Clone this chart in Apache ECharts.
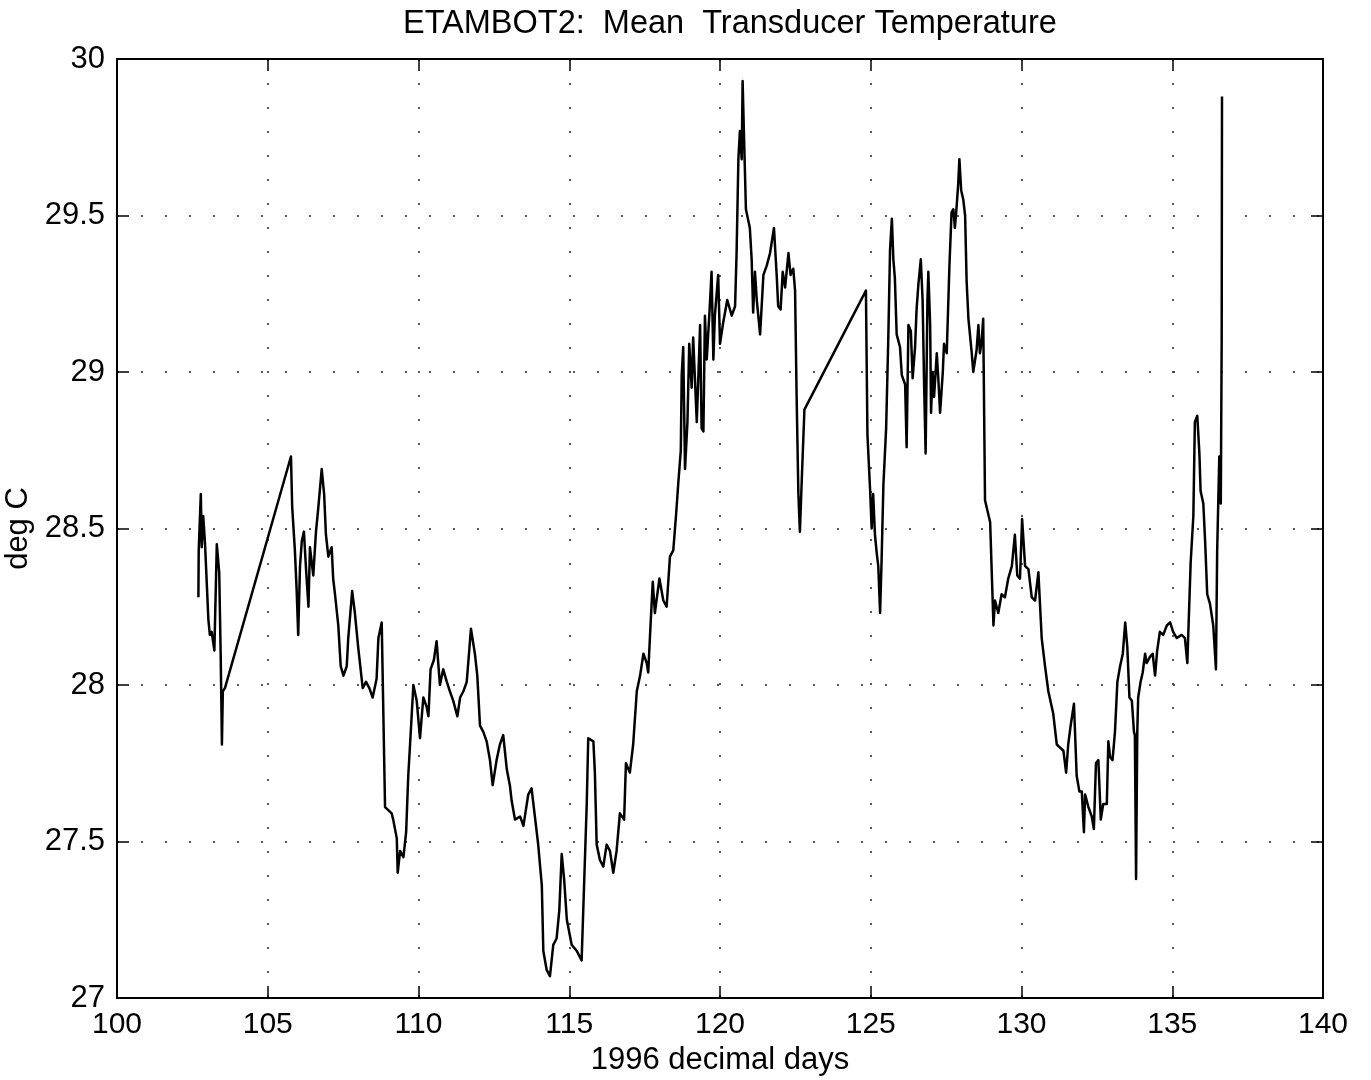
<!DOCTYPE html>
<html>
<head>
<meta charset="utf-8">
<title>ETAMBOT2: Mean Transducer Temperature</title>
<script src="https://cdn.jsdelivr.net/npm/echarts@6/dist/echarts.min.js"></script>
<style>
  html, body { margin: 0; padding: 0; background: #ffffff; }
  #chart { width: 1371px; height: 1080px; }
</style>
</head>
<body>
<div id="chart"></div>
<script>
// Time axis: 1996 decimal days
const days = [
  102.70, 102.71, 102.78, 102.81, 102.86, 102.92, 102.98, 103.03, 103.08, 103.14,
  103.23, 103.31, 103.39, 103.44, 103.48, 103.51, 103.58,
  105.77, 105.81, 105.90, 105.96, 106.01, 106.07, 106.13, 106.20, 106.27, 106.35,
  106.40, 106.51, 106.60, 106.68, 106.79, 106.87, 106.93, 107.01, 107.12, 107.17,
  107.23, 107.34, 107.42, 107.51, 107.62, 107.67, 107.80, 107.89, 108.00, 108.15,
  108.26, 108.37, 108.48, 108.61, 108.67, 108.78, 108.89, 109.00, 109.11, 109.16,
  109.28, 109.31, 109.39, 109.50, 109.59, 109.66, 109.72, 109.83, 109.94, 110.05,
  110.16, 110.27, 110.33, 110.40, 110.51, 110.60, 110.71, 110.82, 110.94, 111.04,
  111.15, 111.29, 111.38, 111.49, 111.60, 111.74, 111.87, 111.95, 112.04, 112.15,
  112.26, 112.37, 112.46, 112.59, 112.70, 112.81, 112.93, 113.03, 113.09, 113.20,
  113.37, 113.48, 113.64, 113.75, 113.86, 113.97, 114.09, 114.14, 114.25, 114.36,
  114.47, 114.58, 114.67, 114.75, 114.83, 114.92, 115.08, 115.25, 115.41, 115.47,
  115.58, 115.63, 115.80, 115.85, 115.91, 116.02, 116.13, 116.24, 116.35, 116.46,
  116.57, 116.68, 116.82, 116.88, 117.01, 117.12, 117.24, 117.35, 117.46, 117.57,
  117.62, 117.68, 117.77, 117.84, 117.99, 118.12, 118.23, 118.34, 118.45, 118.54,
  118.62, 118.70, 118.73, 118.78, 118.84, 118.92, 118.98, 119.06, 119.11, 119.23,
  119.34, 119.39, 119.45, 119.50, 119.56, 119.65, 119.72, 119.78, 119.83, 119.94,
  120.00, 120.11, 120.24, 120.39, 120.50, 120.55, 120.61, 120.66, 120.72, 120.75,
  120.80, 120.86, 120.99, 121.05, 121.10, 121.16, 121.22, 121.33, 121.44, 121.55,
  121.66, 121.79, 121.88, 121.93, 122.01, 122.08, 122.16, 122.27, 122.34, 122.43,
  122.49, 122.54, 122.60, 122.65, 122.71, 122.80,
  124.84, 124.89, 124.98, 125.03, 125.08, 125.14, 125.20, 125.25, 125.31, 125.36,
  125.42, 125.51, 125.58, 125.64, 125.70, 125.75, 125.80, 125.86, 125.97, 126.03,
  126.14, 126.19, 126.25, 126.33, 126.39, 126.47, 126.52, 126.58, 126.66, 126.72,
  126.77, 126.82, 126.88, 126.91, 126.97, 127.00, 127.05, 127.10, 127.19, 127.24,
  127.30, 127.39, 127.43, 127.52, 127.61, 127.68, 127.74, 127.79, 127.85, 127.90,
  127.94, 128.00, 128.07, 128.13, 128.18, 128.24, 128.35, 128.40, 128.51, 128.57,
  128.62, 128.68, 128.73, 128.79, 128.96, 129.07, 129.12, 129.23, 129.34, 129.45,
  129.56, 129.68, 129.78, 129.86, 129.95, 130.02, 130.12, 130.23, 130.34, 130.45,
  130.56, 130.67, 130.78, 130.89, 131.05, 131.17, 131.39, 131.48, 131.55, 131.63,
  131.74, 131.83, 131.92, 132.00, 132.07, 132.11, 132.22, 132.33, 132.40, 132.47,
  132.55, 132.63, 132.71, 132.83, 132.88, 132.94, 133.02, 133.10, 133.18, 133.27,
  133.36, 133.44, 133.51, 133.58, 133.66, 133.73, 133.76, 133.80, 133.84, 133.87,
  133.95, 134.02, 134.10, 134.15, 134.26, 134.35, 134.43, 134.50, 134.59, 134.70,
  134.82, 134.93, 135.03, 135.15, 135.31, 135.42, 135.50, 135.61, 135.70, 135.75,
  135.83, 135.90, 135.94, 136.03, 136.09, 136.16, 136.25, 136.36, 136.45, 136.49,
  136.56, 136.61, 136.64, 136.65
];

// Mean transducer temperature, deg C
const temps = [
  28.28, 28.43, 28.61, 28.44, 28.54, 28.45, 28.32, 28.21, 28.16, 28.17,
  28.11, 28.45, 28.36, 28.09, 27.81, 27.98, 27.99,
  28.73, 28.57, 28.43, 28.30, 28.16, 28.38, 28.46, 28.49, 28.37, 28.25,
  28.44, 28.35, 28.49, 28.57, 28.69, 28.61, 28.48, 28.41, 28.44, 28.34,
  28.29, 28.19, 28.06, 28.03, 28.06, 28.15, 28.30, 28.23, 28.12, 27.99,
  28.01, 27.99, 27.96, 28.02, 28.15, 28.20, 27.61, 27.60, 27.59, 27.57,
  27.51, 27.40, 27.47, 27.45, 27.53, 27.71, 27.81, 28.00, 27.95, 27.83,
  27.96, 27.93, 27.90, 28.05, 28.08, 28.14, 28.00, 28.05, 28.01, 27.98,
  27.95, 27.90, 27.96, 27.98, 28.01, 28.18, 28.10, 28.03, 27.87, 27.85,
  27.82, 27.76, 27.68, 27.76, 27.81, 27.84, 27.73, 27.68, 27.63, 27.57,
  27.58, 27.55, 27.65, 27.67, 27.58, 27.49, 27.36, 27.15, 27.09, 27.07,
  27.17, 27.19, 27.28, 27.46, 27.38, 27.25, 27.17, 27.15, 27.12, 27.12,
  27.62, 27.83, 27.82, 27.72, 27.49, 27.44, 27.42, 27.49, 27.47, 27.40,
  27.47, 27.59, 27.57, 27.75, 27.72, 27.81, 27.98, 28.03, 28.10, 28.07,
  28.04, 28.16, 28.33, 28.23, 28.34, 28.27, 28.25, 28.41, 28.43, 28.54,
  28.65, 28.75, 28.99, 29.08, 28.69, 28.84, 29.09, 28.95, 29.11, 28.84,
  29.15, 28.82, 28.81, 29.18, 29.04, 29.19, 29.32, 29.04, 29.18, 29.31,
  29.09, 29.16, 29.23, 29.18, 29.21, 29.38, 29.68, 29.77, 29.68, 29.93,
  29.74, 29.52, 29.46, 29.36, 29.19, 29.32, 29.23, 29.12, 29.31, 29.34,
  29.38, 29.46, 29.31, 29.21, 29.20, 29.32, 29.27, 29.38, 29.31, 29.33,
  29.26, 28.93, 28.61, 28.49, 28.65, 28.88,
  29.26, 28.80, 28.62, 28.50, 28.61, 28.48, 28.42, 28.38, 28.23, 28.40,
  28.64, 28.82, 29.10, 29.39, 29.49, 29.36, 29.30, 29.12, 29.08, 28.99,
  28.96, 28.76, 29.15, 29.13, 28.98, 29.08, 29.20, 29.28, 29.36, 29.23,
  28.96, 28.74, 29.23, 29.32, 29.15, 28.87, 29.00, 28.92, 29.06, 28.98,
  28.87, 29.00, 29.09, 29.06, 29.34, 29.51, 29.52, 29.46, 29.53, 29.60,
  29.68, 29.58, 29.55, 29.50, 29.29, 29.17, 29.06, 29.00, 29.07, 29.15,
  29.06, 29.10, 29.17, 28.59, 28.52, 28.19, 28.27, 28.23, 28.29, 28.28,
  28.34, 28.38, 28.48, 28.35, 28.34, 28.53, 28.38, 28.37, 28.28, 28.27,
  28.36, 28.15, 28.06, 27.98, 27.91, 27.81, 27.79, 27.72, 27.81, 27.87,
  27.94, 27.71, 27.66, 27.66, 27.53, 27.65, 27.61, 27.58, 27.54, 27.75,
  27.76, 27.57, 27.62, 27.62, 27.82, 27.77, 27.76, 27.85, 28.01, 28.06,
  28.10, 28.20, 28.12, 27.96, 27.95, 27.85, 27.84, 27.38, 27.85, 27.96,
  28.01, 28.04, 28.10, 28.07, 28.09, 28.10, 28.03, 28.11, 28.17, 28.16,
  28.19, 28.20, 28.17, 28.15, 28.16, 28.15, 28.07, 28.39, 28.54, 28.84,
  28.86, 28.74, 28.62, 28.58, 28.46, 28.29, 28.26, 28.19, 28.05, 28.43,
  28.73, 28.58, 29.11, 29.88
];

// Axis ranges and tick spacing
const xRange = [100, 140];
const xStep = 5;
const yRange = [27, 30];
const yStep = 0.5;

const FONT = '"Liberation Sans", Arial, Helvetica, sans-serif';
const INK = '#000000';

const chart = echarts.init(document.getElementById('chart'), null, { renderer: 'canvas' });

const points = days.map((d, i) => [d, temps[i]]);

const dottedGrid = {
  show: true,
  lineStyle: { color: '#222222', width: 1.5, type: [2, 22] }
};

const boxAxisLine = { show: true, onZero: false, lineStyle: { color: INK, width: 2 } };
const inTicks = { show: true, inside: true, length: 12, lineStyle: { color: INK, width: 1.5 } };

chart.setOption({
  animation: false,
  backgroundColor: '#ffffff',
  title: {
    text: 'ETAMBOT2:  Mean  Transducer Temperature',
    left: 398,
    top: 3,
    textStyle: { fontFamily: FONT, fontSize: 32.5, fontWeight: 'normal', color: INK }
  },
  grid: {
    left: 117, right: 48, top: 59, bottom: 82,
    containLabel: false,
    outerBoundsMode: 'none'
  },
  xAxis: [
    {
      type: 'value',
      min: xRange[0], max: xRange[1], interval: xStep,
      position: 'bottom',
      name: '1996 decimal days',
      nameLocation: 'middle',
      nameGap: 46,
      nameTextStyle: { fontFamily: FONT, fontSize: 31, color: INK },
      axisLine: boxAxisLine,
      axisTick: inTicks,
      axisLabel: { fontFamily: FONT, fontSize: 30, color: INK, margin: 12 },
      splitLine: dottedGrid
    },
    {
      type: 'value',
      min: xRange[0], max: xRange[1], interval: xStep,
      position: 'top',
      axisLine: boxAxisLine,
      axisTick: inTicks,
      axisLabel: { show: false },
      splitLine: { show: false }
    }
  ],
  yAxis: [
    {
      type: 'value',
      min: yRange[0], max: yRange[1], interval: yStep,
      position: 'left',
      name: 'deg C',
      nameLocation: 'middle',
      nameRotate: 90,
      nameGap: 70,
      nameTextStyle: { fontFamily: FONT, fontSize: 31, color: INK },
      axisLine: boxAxisLine,
      axisTick: inTicks,
      axisLabel: { fontFamily: FONT, fontSize: 31, color: INK, margin: 12 },
      splitLine: dottedGrid
    },
    {
      type: 'value',
      min: yRange[0], max: yRange[1], interval: yStep,
      position: 'right',
      axisLine: boxAxisLine,
      axisTick: inTicks,
      axisLabel: { show: false },
      splitLine: { show: false }
    }
  ],
  series: [
    {
      type: 'line',
      xAxisIndex: 0,
      yAxisIndex: 0,
      data: points,
      showSymbol: false,
      symbol: 'none',
      lineStyle: { color: INK, width: 2.5, join: 'round' },
      z: 5
    }
  ]
});
</script>
</body>
</html>
